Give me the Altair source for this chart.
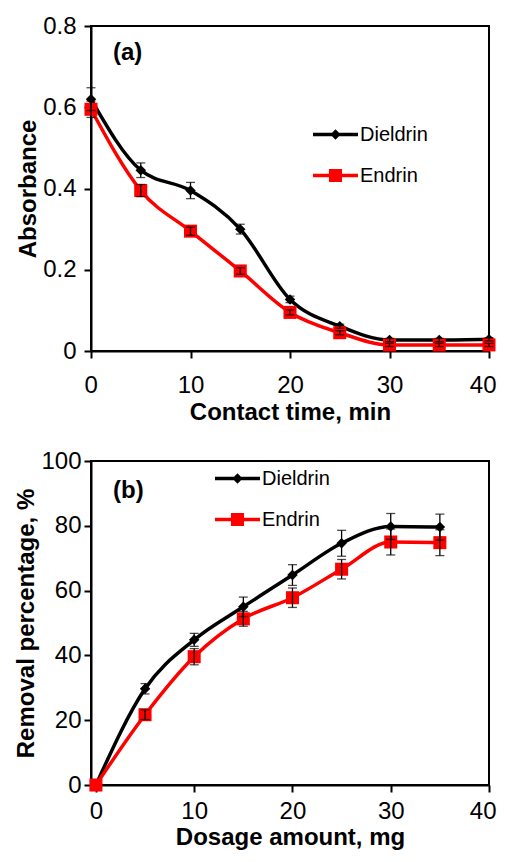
import altair as alt
import pandas as pd

FONT = "Liberation Sans"

series = ["Dieldrin", "Endrin"]
colors = ["#000000", "#FF0000"]
marker_shapes = ["diamond", "square"]
marker_sizes = [110, 170]
legend_paths = [
    "M-1,-0.075L1,-0.075L1,0.075L-1,0.075Z M0,-0.23L0.23,0L0,0.23L-0.23,0Z",
    "M-1,-0.075L1,-0.075L1,0.075L-1,0.075Z M-0.29,-0.29L0.29,-0.29L0.29,0.29L-0.29,0.29Z",
]
panel_labels = ["(a)", "(b)"]

# Panel (a): absorbance vs contact time
time_min = [0, 5, 10, 15, 20, 25, 30, 35, 40]
abs_dieldrin = [0.62, 0.445, 0.395, 0.30, 0.127, 0.061, 0.027, 0.027, 0.029]
abs_dieldrin_err = [0.028, 0.018, 0.02, 0.012, 0.008, 0.005, 0.004, 0.004, 0.004]
abs_endrin = [0.595, 0.395, 0.295, 0.197, 0.095, 0.045, 0.015, 0.015, 0.015]
abs_endrin_err = [0.02, 0.015, 0.01, 0.008, 0.006, 0.005, 0.004, 0.004, 0.004]

# Panel (b): removal percentage vs dosage
dose_mg = [0, 5, 10, 15, 20, 25, 30, 35]
rem_dieldrin = [0, 29.7, 44.8, 55.0, 64.8, 74.6, 79.8, 79.6]
rem_dieldrin_err = [0, 1.6, 2.0, 3.0, 3.2, 4.0, 4.0, 4.0]
rem_endrin = [0, 21.7, 39.6, 51.3, 57.8, 66.6, 75.0, 74.8]
rem_endrin_err = [0, 1.5, 2.5, 2.3, 3.0, 3.0, 4.0, 4.0]


def long_df(xs, ys_list, errs_list):
    rows = []
    for s, ys, es in zip(series, ys_list, errs_list):
        for x, y, e in zip(xs, ys, es):
            rows.append({"x": x, "y": y, "err": e, "series": s})
    return pd.DataFrame(rows)


df_a = long_df(time_min, [abs_dieldrin, abs_endrin], [abs_dieldrin_err, abs_endrin_err])
df_b = long_df(dose_mg, [rem_dieldrin, rem_endrin], [rem_dieldrin_err, rem_endrin_err])


def panel(df, label, xdom, ydom, yticks, ylabel_expr, xtitle, ytitle, w, h,
          leg_x, leg_y, lab_x, lab_y, x_label_pad, x_title_pad, y_label_pad):
    xaxis = alt.Axis(values=[0, 10, 20, 30, 40], title=xtitle, titlePadding=x_title_pad,
                     labelPadding=x_label_pad, labelFlush=True, labelFlushOffset=7)
    yaxis = alt.Axis(values=yticks, title=ytitle, labelExpr=ylabel_expr, labelPadding=y_label_pad)
    xs = alt.Scale(domain=xdom, nice=False)
    ys = alt.Scale(domain=ydom, nice=False)

    def X(f="x"):
        return alt.X(f + ":Q", scale=xs, axis=xaxis)

    def Y(f="y"):
        return alt.Y(f + ":Q", scale=ys, axis=yaxis)

    base = alt.Chart(df)
    layers = []
    for s, c in zip(series, colors):
        layers.append(
            base.transform_filter(alt.datum.series == s)
            .mark_line(interpolate="monotone", strokeWidth=3.5, color=c)
            .encode(x=X(), y=Y())
        )
    for s, c, shp, sz in zip(series, colors, marker_shapes, marker_sizes):
        layers.append(
            base.transform_filter(alt.datum.series == s)
            .mark_point(filled=True, opacity=1, shape=shp, size=sz, color=c)
            .encode(x=X(), y=Y())
        )
    eb = base.transform_filter(alt.datum.err > 0).transform_calculate(
        lo="datum.y - datum.err", hi="datum.y + datum.err"
    )
    layers.append(
        eb.mark_rule(color="black", strokeWidth=1.3).encode(x=X(), y=Y("lo"), y2="hi:Q")
    )
    layers.append(
        eb.mark_tick(orient="horizontal", size=9, thickness=1.3, color="black").encode(x=X(), y=Y("lo"))
    )
    layers.append(
        eb.mark_tick(orient="horizontal", size=9, thickness=1.3, color="black").encode(x=X(), y=Y("hi"))
    )
    leg = alt.Legend(
        orient="none", legendX=leg_x, legendY=leg_y, title=None,
        labelFont=FONT, labelFontSize=20, labelColor="black", labelOffset=2,
        symbolSize=2025, symbolOpacity=1, symbolStrokeWidth=0, padding=0, rowPadding=8,
    )
    layers.append(
        base.mark_point(filled=True, opacity=0, size=1).encode(
            x=X(), y=Y(),
            color=alt.Color("series:N", scale=alt.Scale(domain=series, range=colors), legend=leg),
            shape=alt.Shape("series:N", scale=alt.Scale(domain=series, range=legend_paths), legend=leg),
        )
    )
    lab_df = pd.DataFrame({"label": [label]})
    layers.append(
        alt.Chart(lab_df).mark_text(
            align="left", baseline="middle", fontWeight="bold", fontSize=24, font=FONT, color="black"
        ).encode(x=alt.value(lab_x), y=alt.value(lab_y), text="label:N")
    )
    return alt.layer(*layers).properties(width=w, height=h)


pa = panel(df_a, panel_labels[0], [0, 40], [0, 0.8], [0, 0.2, 0.4, 0.6, 0.8],
           "datum.value == 0 ? '0' : format(datum.value, '.1f')",
           "Contact time, min", "Absorbance", 398, 325,
           222, 86, 22, 27, 15, 3, 8)
pb = panel(df_b, panel_labels[1], [-0.5, 40], [0, 100], [0, 20, 40, 60, 80, 100],
           "format(datum.value, 'd')",
           "Dosage amount, mg", "Removal percentage, %", 398, 324,
           124, -5, 22, 30, 7, 2.5, 3)

chart = alt.concat(pa, pb, columns=1, spacing=23).resolve_scale(
    color="independent", shape="independent"
).resolve_legend(color="independent", shape="independent").properties(
    padding={"left": 5, "top": 5, "right": 0, "bottom": 0}
).configure_view(
    stroke="black", strokeWidth=2
).configure_axis(
    grid=False, labelFont=FONT, labelFontSize=24, labelColor="black",
    titleFont=FONT, titleFontSize=24, titleFontWeight="bold", titleColor="black",
    domainColor="black", domainWidth=2, tickColor="black", tickWidth=2, tickSize=7,
    titlePadding=3
).configure_axisY(titlePadding=2)

chart.save("out.html", embed_options={"renderer": "svg", "actions": False})
